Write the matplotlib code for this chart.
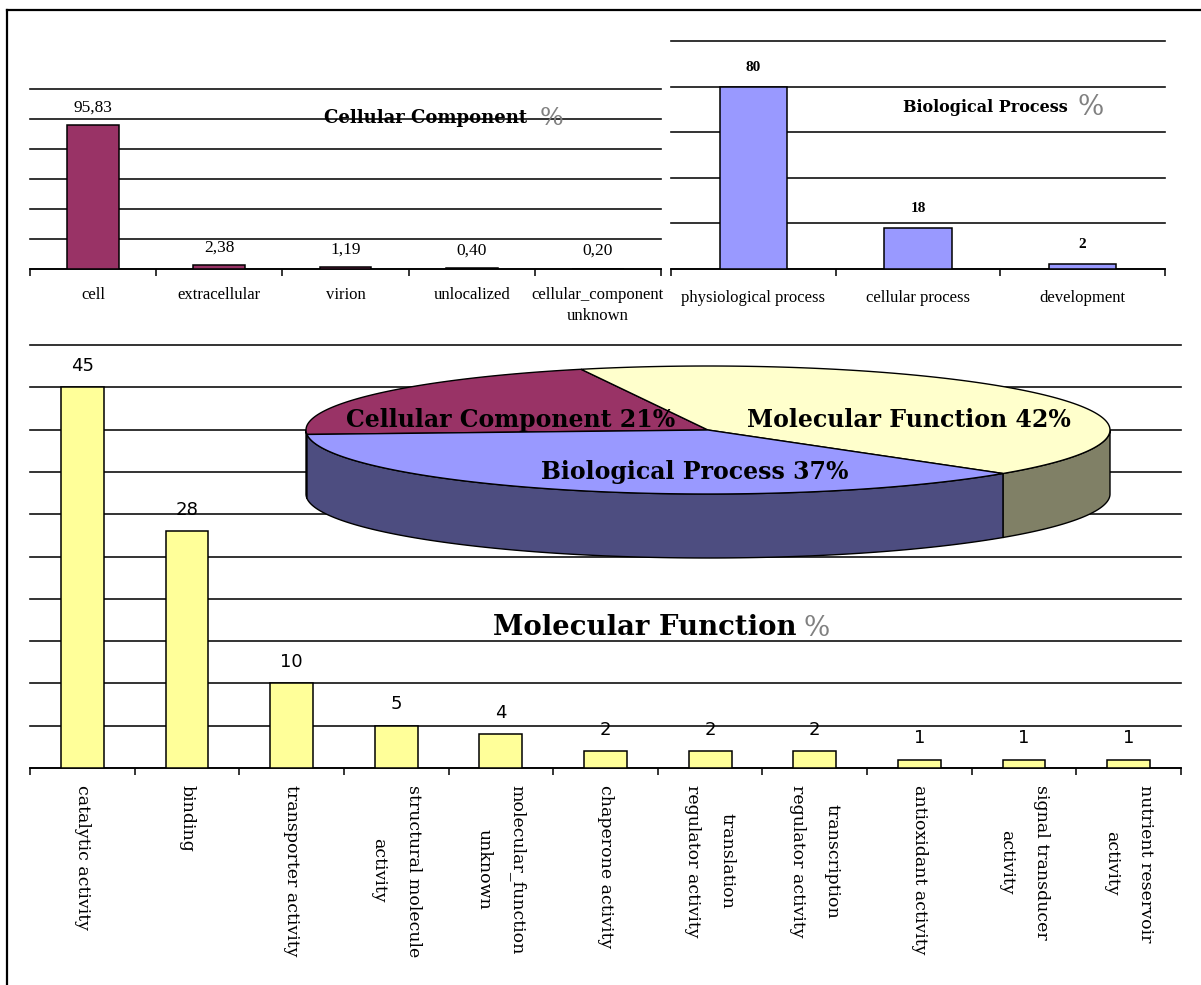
import numpy as np
import matplotlib
matplotlib.use("Agg")
import matplotlib.pyplot as plt
from matplotlib.lines import Line2D
from matplotlib.patches import Polygon

# ---- data -------------------------------------------------------------
cc_categories = ["cell", "extracellular", "virion", "unlocalized",
                 "cellular_component\nunknown"]
cc_values = [95.83, 2.38, 1.19, 0.40, 0.20]

bp_categories = ["physiological process", "cellular process", "development"]
bp_values = [80, 18, 2]

mf_categories = ["catalytic activity", "binding", "transporter activity",
                 "structural molecule\nactivity", "molecular_function\nunknown",
                 "chaperone activity", "translation\nregulator activity",
                 "transcription\nregulator activity", "antioxidant activity",
                 "signal transducer\nactivity", "nutrient reservoir\nactivity"]
mf_values = [45, 28, 10, 5, 4, 2, 2, 2, 1, 1, 1]

pie_names = ["Cellular Component", "Molecular Function", "Biological Process"]
pie_shares = [21, 42, 37]

# ---- styles -----------------------------------------------------------
W, H = 1201, 985
SERIF = "Liberation Serif"
SLAB = "DejaVu Serif"
top_colors = {"Cellular Component": "#993366",
              "Molecular Function": "#FFFFCC",
              "Biological Process": "#9999FF"}
side_colors = {"Cellular Component": "#4D1933",
               "Molecular Function": "#808066",
               "Biological Process": "#4D4D80"}

fig = plt.figure(figsize=(W / 100, H / 100), dpi=100)
fig.patch.set_facecolor("white")


def px_rect(x0, x1, ytop, ybot):
    """Axes rectangle from pixel edges (y measured from the top)."""
    return [x0 / W, (H - ybot) / H, (x1 - x0) / W, (ybot - ytop) / H]


def bar_panel(rect, cats, vals, ymax, step, color):
    ax = fig.add_axes(rect)
    x = np.arange(len(cats))
    ax.bar(x, vals, width=0.41, color=color, edgecolor="black",
           linewidth=1.1, zorder=3)
    ax.set_xlim(-0.5, len(cats) - 0.5)
    ax.set_ylim(0, ymax)
    ax.set_yticks(np.arange(0, ymax + step / 2, step))
    ax.yaxis.grid(True, color="#111111", linewidth=1.2)
    for gl in ax.get_ygridlines():
        gl.set_clip_on(False)
    ax.set_axisbelow(True)
    ax.tick_params(axis="y", length=0, labelleft=False)
    for s in ("top", "right", "left"):
        ax.spines[s].set_visible(False)
    ax.spines["bottom"].set_linewidth(1.2)
    ax.set_xticks(x)
    ax.set_xticklabels(cats)
    ax.set_xticks(np.arange(len(cats) + 1) - 0.5, minor=True)
    ax.tick_params(axis="x", which="major", length=0)
    ax.tick_params(axis="x", which="minor", length=5, width=1.1,
                   direction="out")
    return ax, x


# ---- Cellular Component bars -----------------------------------------
ax_cc, xc = bar_panel(px_rect(30, 661, 89, 269), cc_categories, cc_values,
                      120, 20, "#993366")
ax_cc.tick_params(axis="x", pad=13)
for lbl in ax_cc.get_xticklabels():
    lbl.set_fontfamily(SERIF)
    lbl.set_fontsize(12)
    lbl.set_linespacing(1.45)
for xi, v in zip(xc, cc_values):
    ax_cc.annotate(f"{v:.2f}".replace(".", ","), (xi, v), xytext=(0, 13),
                   textcoords="offset points", ha="center", va="center",
                   fontfamily=SERIF, fontsize=12.5)
t_cc = ax_cc.text(0.466, 0.839, "Cellular Component", transform=ax_cc.transAxes,
                  ha="left", va="center", fontfamily=SLAB, fontweight="bold",
                  fontsize=13)
ax_cc.annotate("%", xy=(1, 0.45), xycoords=t_cc, xytext=(9, 0),
               textcoords="offset points", ha="left", va="center",
               fontfamily=SLAB, fontsize=18, color="#808080")

# ---- Biological Process bars -----------------------------------------
ax_bp, xb = bar_panel(px_rect(671, 1165, 41, 269), bp_categories, bp_values,
                      100, 20, "#9999FF")
ax_bp.tick_params(axis="x", pad=15)
for lbl in ax_bp.get_xticklabels():
    lbl.set_fontfamily(SERIF)
    lbl.set_fontsize(12)
for xi, v in zip(xb, bp_values):
    ax_bp.annotate(f"{v}", (xi, v), xytext=(0, 14),
                   textcoords="offset points", ha="center", va="center",
                   fontfamily=SERIF, fontweight="bold", fontsize=11)
t_bp = ax_bp.text(0.4696, 0.7105, "Biological Process", transform=ax_bp.transAxes,
                  ha="left", va="center", fontfamily=SLAB, fontweight="bold",
                  fontsize=11.5)
ax_bp.annotate("%", xy=(1, 0.45), xycoords=t_bp, xytext=(7, 0),
               textcoords="offset points", ha="left", va="center",
               fontfamily=SLAB, fontsize=20, color="#808080")

# ---- Molecular Function bars -----------------------------------------
ax_mf, xm = bar_panel(px_rect(30, 1181, 345, 768), mf_categories, mf_values,
                      50, 5, "#FFFF99")
ax_mf.tick_params(axis="x", pad=12)
for lbl in ax_mf.get_xticklabels():
    lbl.set_fontfamily(SLAB)
    lbl.set_fontsize(12.5)
    lbl.set_rotation(-90)
    lbl.set_linespacing(2.35)
    lbl.set_multialignment("center")
for xi, v in zip(xm, mf_values):
    ax_mf.annotate(f"{v}", (xi, v), xytext=(0, 15.5),
                   textcoords="offset points", ha="center", va="center",
                   fontfamily="DejaVu Sans", fontsize=13)
t_mf = ax_mf.text(0.4023, 0.3333, "Molecular Function", transform=ax_mf.transAxes,
                  ha="left", va="center", fontfamily=SLAB, fontweight="bold",
                  fontsize=19.8)
ax_mf.annotate("%", xy=(1, 0.45), xycoords=t_mf, xytext=(5, 0),
               textcoords="offset points", ha="left", va="center",
               fontfamily=SLAB, fontsize=20, color="#808080")

# ---- 3-D pie of the three GO branches --------------------------------
pax = fig.add_axes([0, 0, 1, 1])
pax.set_xlim(0, W)
pax.set_ylim(H, 0)
pax.axis("off")

cx, cy, ra, rb, depth = 708, 430, 402, 64, 64
start = 184.0


def rim(t1, t2, dy=0.0, n=120):
    t = np.radians(np.linspace(t1, t2, n))
    return np.column_stack([cx + ra * np.cos(t), cy - rb * np.sin(t) + dy])


spans = []
a0 = start
for name, share in zip(pie_names, pie_shares):
    a1 = a0 - 360.0 * share / sum(pie_shares)
    spans.append((name, a0, a1))
    a0 = a1

# side walls: only the front half (angles between -180 and 0) is visible
for name, t1, t2 in spans:
    for shift in (0.0, -360.0, 360.0):
        hi = min(t1 + shift, 0.0)
        lo = max(t2 + shift, -180.0)
        if hi > lo:
            upper = rim(hi, lo)
            lower = rim(lo, hi, dy=depth)
            pax.add_patch(Polygon(np.vstack([upper, lower]), closed=True,
                                  facecolor=side_colors[name],
                                  edgecolor="black", linewidth=1.0))

# top face wedges
for name, t1, t2 in spans:
    pts = np.vstack([[cx, cy], rim(t1, t2)])
    pax.add_patch(Polygon(pts, closed=True, facecolor=top_colors[name],
                          edgecolor="black", linewidth=1.0))

label_pos = {"Cellular Component": (511, 420),
             "Molecular Function": (909, 420),
             "Biological Process": (695, 472)}
for name, share in zip(pie_names, pie_shares):
    lx, ly = label_pos[name]
    pax.text(lx, ly, f"{name} {share}%", ha="center", va="center",
             fontfamily=SLAB, fontweight="bold", fontsize=17, color="black")

# ---- outer frame -------------------------------------------------------
fig.add_artist(Line2D([7 / W, 7 / W], [0, 1 - 10 / H], transform=fig.transFigure,
                      color="black", linewidth=1.6))
fig.add_artist(Line2D([7 / W, 1], [1 - 10 / H, 1 - 10 / H],
                      transform=fig.transFigure, color="black", linewidth=1.6))

fig.savefig("out.png", dpi=100, facecolor="white")
